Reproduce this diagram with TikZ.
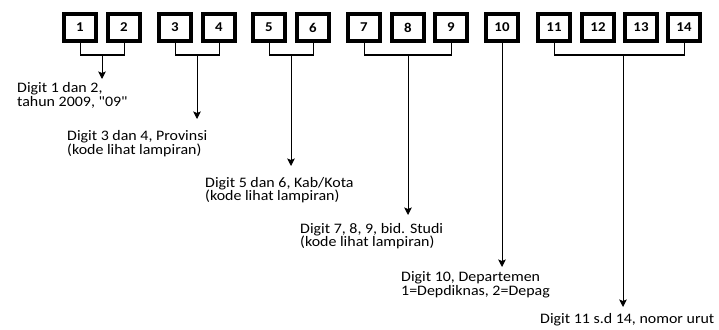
\documentclass[tikz,border=0pt]{standalone}
\usepackage{fontspec}
\setmainfont{Carlito}[Ligatures=TeXOff,FakeStretch=1.1]
\usetikzlibrary{arrows.meta}
\begin{document}
\begin{tikzpicture}[x=1pt,y=-1pt,
  digitbox/.style={draw=black,line width=4pt,minimum width=32pt,minimum height=27.5pt,inner sep=0pt,font=\fontsize{13.5}{16}\selectfont\bfseries},
  conn/.style={line width=1pt},
  arr/.style={line width=1pt,-{Stealth[length=7.5pt,width=7.5pt,inset=1.5pt]}},
  lbl/.style={anchor=base west,inner sep=0pt,align=left,font=\fontsize{14.5}{13.5}\selectfont}]
\useasboundingbox (0,0) rectangle (719,329);
\foreach \n/\x in {1/80,2/124,3/175,4/219,5/269,6/313,7/364,8/408,9/451,10/502,11/554,12/598,13/641,14/684}{
  \node[digitbox] (b\n) at (\x,27.5) {\n};
}
% brackets
\coordinate (m1) at (102,55);
\coordinate (m2) at (197,55);
\coordinate (m3) at (291,55);
\coordinate (m4) at (408,55);
\coordinate (m5) at (623,55);
\draw[conn] (b1.south) |- (m1) -| (b2.south);
\draw[conn] (b3.south) |- (m2) -| (b4.south);
\draw[conn] (b5.south) |- (m3) -| (b6.south);
\draw[conn] (b7.south) |- (m4) -| (b9.south);
\draw[conn] (b11.south) |- (m5) -| (b14.south);
% labels (anchor = baseline of the last line)
\node[lbl] (t1) at (17,106.5) {Digit 1 dan 2,\\tahun 2009, "09"};
\node[lbl] (t2) at (67,154) {Digit 3 dan 4, Provinsi\\(kode lihat lampiran)};
\node[lbl] (t3) at (205,200.5) {Digit 5 dan 6, Kab/Kota\\(kode lihat lampiran)};
\node[lbl] (t4) at (300,246.5) {Digit 7, 8, 9, bid. Studi\\(kode lihat lampiran)};
\node[lbl] (t5) at (401,295) {Digit 10, Departemen\\1=Depdiknas, 2=Depag};
\node[lbl] (t6) at (540,323) {Digit 11 s.d 14, nomor urut};
% arrows
\coordinate (e1) at (102,79);
\coordinate (e2) at (197,119);
\coordinate (e3) at (291,166);
\coordinate (e4) at (408,215);
\coordinate (e5) at (502,267);
\coordinate (e6) at (623,307);
\draw[arr] (m1) -- (e1);
\draw[arr] (m2) -- (e2);
\draw[arr] (m3) -- (e3);
\draw[arr] (m4) -- (e4);
\draw[arr] (b10.south) -- (e5);
\draw[arr] (m5) -- (e6);
\end{tikzpicture}
\end{document}
